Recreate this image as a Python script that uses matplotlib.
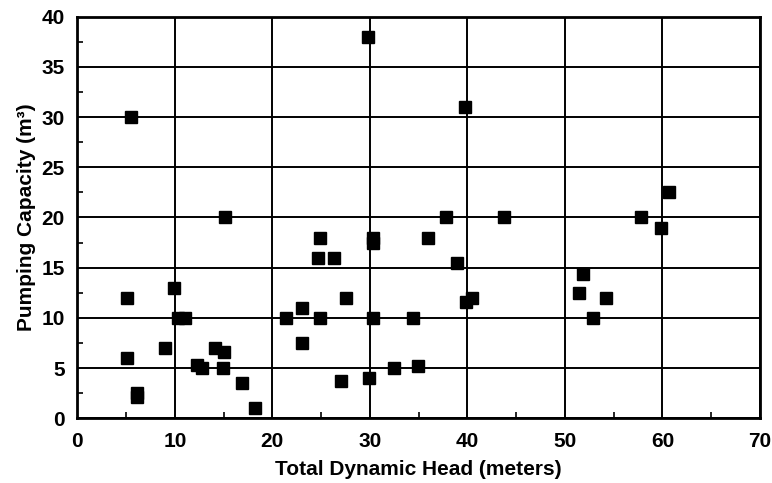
import matplotlib
matplotlib.use("Agg")
import matplotlib.pyplot as plt
from matplotlib.ticker import MultipleLocator

# Data
head_m = [5.5, 15.1, 24.9, 29.8, 30.3, 30.3, 39.8, 37.8, 36.0, 43.8, 57.8, 60.7, 59.8,
          5.1, 5.1, 6.1, 6.1, 9.9, 10.3, 11.0, 9.0, 12.3, 12.8, 14.1, 15.0, 14.9,
          16.9, 18.2, 21.4, 23.0, 23.0, 24.7, 26.3, 24.9, 27.6, 27.0, 29.9, 30.3,
          32.5, 34.4, 34.9, 38.9, 39.9, 40.5, 51.9, 51.4, 54.2, 52.9]
capacity = [30.0, 20.0, 18.0, 38.0, 18.0, 17.5, 31.0, 20.0, 18.0, 20.0, 20.0, 22.5, 19.0,
            12.0, 6.0, 2.5, 2.1, 13.0, 10.0, 10.0, 7.0, 5.3, 5.0, 7.0, 6.6, 5.0,
            3.5, 1.0, 10.0, 11.0, 7.5, 16.0, 16.0, 10.0, 12.0, 3.7, 4.0, 10.0,
            5.0, 10.0, 5.2, 15.5, 11.6, 12.0, 14.4, 12.5, 12.0, 10.0]

x_ticks = [0, 10, 20, 30, 40, 50, 60, 70]
y_ticks = [0, 5, 10, 15, 20, 25, 30, 35, 40]

plt.rcParams['font.family'] = ['Liberation Sans', 'DejaVu Sans']

fig = plt.figure(figsize=(7.72, 4.83), dpi=100)
ax = fig.add_axes([0.1001, 0.134, 0.8844, 0.8314])

ax.set_xlim(0, 70)
ax.set_ylim(0, 40)
ax.set_xticks(x_ticks)
ax.set_yticks(y_ticks)
ax.xaxis.set_minor_locator(MultipleLocator(5))
ax.yaxis.set_minor_locator(MultipleLocator(2.5))
ax.grid(True, which='major', color='black', linewidth=1.4)
ax.set_axisbelow(True)

ax.plot(head_m, capacity, linestyle='none', marker='s', markersize=9,
        color='black', markeredgecolor='black', zorder=3)

for s in ax.spines.values():
    s.set_linewidth(2)
    s.set_color('black')

ax.tick_params(axis='x', which='major', length=0, pad=10, labelsize=15, width=0)
ax.tick_params(axis='y', which='major', length=0, pad=9, labelsize=15, width=0)
ax.tick_params(axis='both', which='minor', direction='in', length=4, width=1.2)
for lbl in ax.get_xticklabels() + ax.get_yticklabels():
    lbl.set_fontweight('bold')

ax.set_xlabel('Total Dynamic Head (meters)', fontsize=15, fontweight='bold', labelpad=6)
ax.set_ylabel('Pumping Capacity (m³)', fontsize=15, fontweight='bold', labelpad=4)

fig.savefig('out.png', dpi=100, facecolor='white')
